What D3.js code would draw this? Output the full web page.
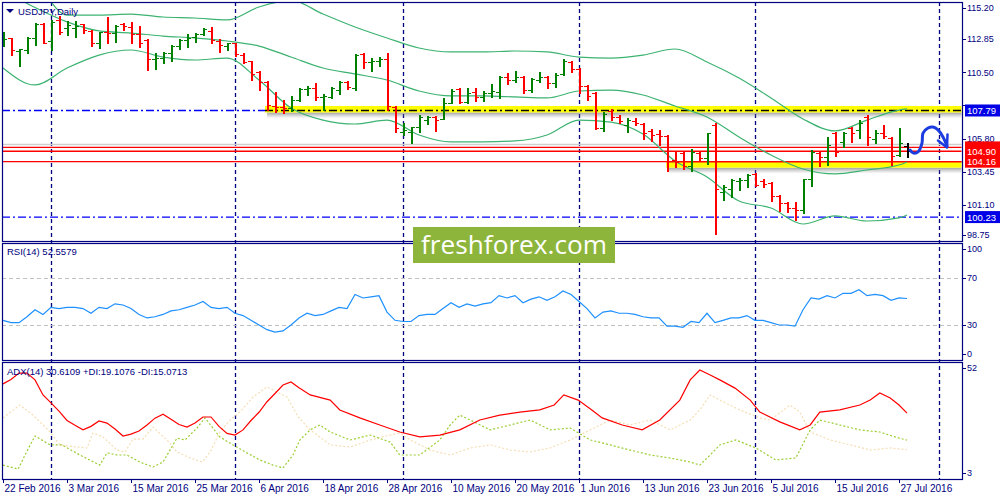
<!DOCTYPE html>
<html><head><meta charset="utf-8">
<script src="https://cdn.jsdelivr.net/npm/d3@7"></script>
<style>
body{margin:0;background:#fff;}
svg{display:block;font-family:"Liberation Sans",Arial,sans-serif;}
</style>
</head><body>
<svg id="c" width="1000" height="500"></svg>
<script>
// ---------- DATA ----------
const dateLabels = ["22 Feb 2016","3 Mar 2016","15 Mar 2016","25 Mar 2016","6 Apr 2016","18 Apr 2016","28 Apr 2016","10 May 2016","20 May 2016","1 Jun 2016","13 Jun 2016","23 Jun 2016","5 Jul 2016","15 Jul 2016","27 Jul 2016"];
const dateLabelIdx = [0,8,16,24,32,40,48,56,64,72,80,88,96,104,112];
const monthSepIdx = [6,29,50,72,94,117];

const open = [112.72,112.93,112.01,112.08,112.93,113.92,112.72,114.21,113.64,113.64,
113.92,113.43,112.58,113.36,113.28,113.92,113.71,113.21,112.79,111.44,
111.51,111.87,112.36,112.79,113.00,113.21,113.43,112.72,112.36,112.58,
111.72,111.30,110.52,109.81,108.11,108.04,107.97,108.53,109.31,109.38,
108.75,108.75,109.24,109.81,109.38,111.80,111.23,111.30,111.44,108.04,
106.26,106.26,106.62,107.11,107.33,107.19,108.32,109.31,108.39,109.10,
108.75,109.03,109.10,110.16,109.95,110.16,109.24,109.95,110.16,109.74,
110.38,111.23,110.73,109.53,109.03,106.55,107.75,107.33,106.76,107.04,
106.83,106.34,106.12,105.98,104.28,104.78,103.85,104.78,104.42,106.76,
102.01,102.22,102.79,102.86,103.29,102.79,102.65,101.73,101.23,100.87,
100.73,102.93,104.78,104.49,106.19,105.56,106.55,106.41,107.33,105.77,
106.19,105.84,104.63,105.27];
const high = [113.36,112.93,112.15,113.00,114.00,114.00,114.21,114.49,114.14,114.14,
113.92,113.50,113.36,114.42,113.85,114.00,114.07,113.78,112.86,111.87,
111.94,112.43,112.86,113.21,113.28,113.64,113.71,112.86,112.58,112.58,
111.87,111.30,110.59,109.88,109.10,108.53,108.82,109.38,109.53,109.74,
108.96,109.46,109.88,109.88,111.80,111.87,111.51,111.58,111.87,108.11,
106.90,106.62,107.47,107.40,107.40,108.68,109.31,109.38,109.38,109.38,
109.17,109.67,110.24,110.45,110.59,110.24,110.09,110.52,110.24,110.45,
111.44,111.30,110.80,109.60,109.10,107.68,107.90,107.47,107.26,107.26,
106.90,106.48,106.41,106.05,104.85,104.85,105.06,104.85,106.19,106.90,
102.51,102.93,103.00,103.29,103.36,102.93,102.72,101.80,101.30,101.30,
102.93,104.99,104.85,105.91,106.26,106.26,106.62,107.11,107.47,106.41,
106.76,105.91,106.55,105.48];
const low = [112.36,111.72,110.94,111.87,112.43,112.58,112.08,113.21,113.14,113.00,
113.28,112.36,112.22,112.58,112.65,113.50,112.58,112.29,110.66,110.73,
111.16,111.30,112.15,112.29,112.65,113.14,112.58,111.94,112.08,111.65,
111.16,109.95,109.24,107.82,107.68,107.61,107.75,108.46,108.89,108.53,
107.82,108.68,108.96,109.31,109.24,110.80,110.59,110.94,107.82,106.26,
106.05,105.48,106.26,106.83,106.34,107.19,108.32,108.32,108.32,108.46,
108.46,108.75,108.68,109.67,109.81,109.03,109.10,109.81,109.38,109.46,
110.31,110.52,109.03,108.53,106.48,106.34,107.11,106.90,106.26,106.76,
105.77,105.63,105.34,103.50,103.78,103.64,103.50,104.28,104.00,99.03,
101.44,101.65,102.15,102.36,102.43,102.36,101.37,100.66,100.59,100.02,
100.52,102.43,103.85,103.92,104.56,105.20,105.56,105.84,105.34,105.48,
105.84,103.92,104.56,104.49];
const close = [112.86,112.08,112.15,112.93,113.92,112.58,114.07,113.36,113.85,113.78,
113.50,112.58,113.36,113.28,113.78,113.78,113.21,112.58,111.44,111.51,
111.87,112.36,112.79,112.93,113.21,113.57,112.79,112.43,112.58,111.80,
111.23,110.38,109.81,108.18,108.04,107.97,108.53,109.31,109.38,108.75,
108.82,109.38,109.81,109.46,111.72,111.23,111.30,111.44,108.11,106.55,
106.41,106.62,107.33,107.33,107.11,108.32,109.17,108.39,109.03,108.75,
109.03,109.17,110.16,109.95,110.16,109.24,110.02,110.16,109.74,110.31,
111.30,110.73,109.53,108.82,106.55,107.54,107.33,107.04,107.11,106.90,
106.19,106.05,105.98,104.21,104.14,103.85,104.85,104.42,106.19,102.22,
102.36,102.86,102.86,103.21,102.51,102.58,101.73,101.23,100.87,100.73,
102.93,104.85,104.49,105.34,104.85,106.19,106.19,106.90,105.91,106.19,
105.98,104.56,105.48,104.90];

// Bollinger bands (20) read at these bar indices
const bbIdx   = [0,4,8,12,16,20,24,28,32,36,40,44,48,52,56,60,64,68,72,76,80,84,88,92,96,100,104,108,112,113];
const bbUpper = [119.00,117.00,114.56,114.56,114.63,114.42,114.35,114.21,115.13,115.60,114.63,113.71,112.93,112.22,111.94,111.94,112.01,111.94,111.58,111.51,111.72,112.15,111.23,110.09,108.68,107.19,106.34,107.11,107.82,107.90];
const bbMid   = [116.30,115.09,114.07,113.43,113.28,113.07,112.93,112.72,112.36,111.58,110.80,110.38,109.95,109.17,108.82,108.82,108.75,108.68,109.17,109.24,108.89,108.11,107.33,105.91,104.63,103.64,103.29,103.57,103.92,104.14];
const bbLower = [110.80,109.60,110.80,111.72,112.08,111.58,111.37,111.51,109.95,107.97,107.11,106.83,107.11,106.05,105.56,105.56,105.63,106.05,107.11,106.97,106.12,104.21,103.07,101.37,100.87,99.74,100.31,99.95,100.17,100.38];

// RSI(14), one value per bar
const rsi = [34,32,32,37,43,39,45,44,45,45,
44,40,45,44,48,47,44,39,36,37,
39,42,43,45,47,50,45,44,45,40,
38,34,30,26,24,25,30,36,40,38,
39,42,45,44,56,53,54,55,41,34,
33,33,38,39,39,44,49,45,48,46,
48,49,55,53,55,49,52,54,51,54,
59,56,50,44,36,41,42,40,40,39,
37,36,36,29,29,28,33,32,40,32,
34,36,36,38,34,34,32,30,30,29,
43,53,52,55,53,57,57,60,55,56,
55,51,53,52.56];

// ADX(14), +DI, -DI read at (fractional) bar positions
const adxIdx = [0,1,2,3,4,5,6,7,8,9,10,11,12,13,14,15,16,17,18,19,20,21,22,23,24,25,26,27,28,29,30,31,32,33,34,35,36,37,38.4,40.9,42.1,44.6,47.1,49.6,52.1,54.6,57.1,59.6,62.1,64.6,67.1,68.9,70.1,71.9,73.6,74.9,77.4,79.9,82.1,84.6,85.9,87.1,88.4,89.6,91.5,93.4,94.6,97.1,99.6,100.9,102.1,104.6,107.1,108.4,109.6,110.9,112,113];
const adxVal = [43.1,45,47.7,47.7,44.8,38.4,35,31.5,27.5,25.5,23.5,25,27.3,26.4,23.9,20.9,21.7,23,25.6,28.5,30.2,28,25.8,24.7,26.4,29,29,25,22,21.3,23.5,27.5,31,35.5,39,42.6,43.9,41.5,38.4,36.2,32,28.6,25.6,22.6,20.5,21.3,23.5,27.7,29.8,31.1,32,34.1,38.4,36.2,32,28.6,25.6,23.5,27.7,36.2,44.8,49,46.9,44.8,41.3,36.2,31.1,26.9,23.5,25.6,31.1,32,34.1,36.2,39.2,37.1,34.1,30.61];
const pdiIdx = [0,1.9,2.75,4,5.9,7.4,9.6,12.1,13,14.25,15.5,17.1,18.75,20,21.75,22.75,24.25,25.25,27.1,28.75,30.5,32.1,33.75,35,36.25,37.1,38.4,39.6,40.9,43.4,45.9,48.4,49.6,52.1,54.6,55.9,57.1,58.4,60.9,63.4,65.9,68.4,70.9,73.4,75.9,78.4,80.9,83.4,85.9,87.1,88.4,89.6,91.6,94.1,96.6,99.1,100.9,102.1,104.6,107.1,109.6,111.5,113];
const pdiVal = [8.5,6.8,12.8,20.9,17.1,17.1,12.8,8.5,13.7,12.8,12.8,9.8,7.7,9.8,20,19.2,24.3,28.6,20.5,17.1,13.7,10.7,8.5,7.3,12.8,19.2,23.5,25.6,22.6,19.2,21.3,18.3,12.8,12.8,19.2,25.6,29.8,27.7,23.5,25.6,27.7,23.5,24.3,19.2,17.1,14.9,12.8,11.5,9.8,8.5,12.8,17.1,19.2,15.8,10.7,11.5,23.5,27.7,25.6,23.5,22.6,20.5,19.11];
const mdiIdx = [0,2.1,3.75,5.9,7.1,9.25,10.5,11.25,12.5,14.25,15.25,16.25,17.5,18.75,20.5,21.75,23.4,24.9,25.9,27.1,28.4,29.6,31.25,33,34.25,35.5,36.9,38.4,40.9,43.4,45.9,48.4,49.6,50.9,53.4,55.9,58.4,60.9,63.4,65.9,68.4,70.9,73.4,75.9,78.4,80.9,83.4,85.9,87.1,88.4,89.6,92.1,94.6,95.9,98.4,99.6,100.9,103.4,105.9,108.4,110.9,113];
const mdiVal = [28.6,34.1,29.8,22.6,17.1,16.2,15.8,22.2,20.5,14.9,14.1,19.6,19.6,24.7,19.2,14.1,11.5,9.8,14.1,22.6,27.7,31.1,37.5,41.8,39.6,37.5,29,23.5,17.1,16.2,19.2,21.3,22.2,19.2,14.9,12.8,15.8,17.1,14.9,14.1,15.8,19.2,23.5,27.7,25.6,27.7,23.5,27.7,32,38.4,36.2,32,28.6,27.7,34.1,31.1,22.6,19.2,17.1,14.9,15.8,15.07];

// horizontal levels / zones
const resistLevel = 107.79, resistStartIdx = 32.75;
const supportLevel = 104.16, supportStartIdx = 82.9;
const lowLevel = 100.23;
const redLevels = [105.17, 104.90, 104.16];
const bidLevel = 105.38;
const priceTicks = [98.75,101.10,103.45,105.80,108.15,110.50,112.85,115.20];
const hiddenPriceTicks = [108.15];   // covered by the 107.79 box in the reference
const rsiTicks = [0,30,70,100];
const adxTicks = [3,52];
// hand-drawn forecast arrow (bar index, price)
const arrowIdx   = [113.375,113.75,114.375,114.875,115,115.625,116.25,116.875,117.5,118.0];
const arrowPrice = [104.99,104.78,104.85,105.48,106.19,106.55,106.62,106.41,105.91,105.27];

// ---------- LAYOUT ----------
const L = 2, R = 962;
const P = {main:[2,241], rsi:[243,360], adx:[362,479]};
const NAVY = "#000080";
const svg = d3.select("#c");
const x  = d3.scaleLinear().domain([0,119.875]).range([3,962]);
const y  = d3.scaleLinear().domain([98.533,115.484]).range([241,2]);
const yR = d3.scaleLinear().domain([0,100]).range([360.25,242.75]);
const yA = d3.scaleLinear().domain([3,52]).range([478,363]);

const defs = svg.append("defs");
Object.entries(P).forEach(([k,[t,b]])=>{
  defs.append("clipPath").attr("id","clip-"+k).append("rect")
    .attr("x",L+0.5).attr("y",t+0.5).attr("width",R-L-1).attr("height",b-t-1);
});
const shadow = defs.append("linearGradient").attr("id","shadow").attr("x1",0).attr("x2",0).attr("y1",0).attr("y2",1);
shadow.append("stop").attr("offset","0%").attr("stop-color","#555").attr("stop-opacity",0.55);
shadow.append("stop").attr("offset","100%").attr("stop-color","#888").attr("stop-opacity",0);

// separators (all panels)
const gSep = svg.append("g");
monthSepIdx.forEach(i=>{
  gSep.append("line").attr("x1",Math.round(x(i))+0.5).attr("x2",Math.round(x(i))+0.5)
    .attr("y1",P.main[0]).attr("y2",P.adx[1])
    .attr("stroke",NAVY).attr("stroke-width",1.3).attr("stroke-dasharray","4,3");
});

// ---------- MAIN PANEL ----------
const gM = svg.append("g").attr("clip-path","url(#clip-main)");
[lowLevel, resistLevel].forEach(v=>{
  gM.append("line").attr("x1",L).attr("x2",R).attr("y1",y(v)).attr("y2",y(v))
    .attr("stroke","#0000ff").attr("stroke-width",1.3).attr("stroke-dasharray","8,3,2,3");
});
gM.append("line").attr("x1",L).attr("x2",R).attr("y1",y(bidLevel)).attr("y2",y(bidLevel))
  .attr("stroke","#cfcfcf").attr("stroke-width",1.5);
redLevels.forEach(v=>{
  gM.append("line").attr("x1",L).attr("x2",R).attr("y1",y(v)).attr("y2",y(v))
    .attr("stroke","#ff0000").attr("stroke-width",1.3);
});
function zone(level, startIdx, topOff, botOff, lineColor, dash){
  const x0 = x(startIdx);
  gM.append("rect").attr("x",x0+2).attr("y",y(level)+botOff).attr("width",R-x0).attr("height",6)
    .attr("fill","url(#shadow)");
  gM.append("rect").attr("x",x0).attr("y",y(level)+topOff).attr("width",R-x0).attr("height",botOff-topOff)
    .attr("fill","#ffff00");
  gM.append("line").attr("x1",x0).attr("x2",R).attr("y1",y(level)).attr("y2",y(level))
    .attr("stroke",lineColor).attr("stroke-width",1.5).attr("stroke-dasharray",dash);
}
zone(resistLevel, resistStartIdx, -4.5, 2, "#000", "8,3,2,3");
zone(supportLevel, supportStartIdx, -0.5, 6, "#ff0000", null);

const bbLine = (arr)=> d3.line().x((d,i)=>x(bbIdx[i])).y(d=>y(d)).curve(d3.curveMonotoneX)(arr);
[bbUpper,bbMid,bbLower].forEach(a=>{
  gM.append("path").attr("d",bbLine(a)).attr("fill","none").attr("stroke","#3cb371").attr("stroke-width",1.2);
});

const gBars = gM.append("g").attr("shape-rendering","crispEdges");
open.forEach((o,i)=>{
  const c = close[i];
  const col = i===open.length-1 ? "#000" : (c>=o ? "#008000" : "#ff0000");
  const xc = Math.round(x(i));
  gBars.append("line").attr("x1",xc+0.5).attr("x2",xc+0.5).attr("y1",y(high[i])).attr("y2",y(low[i])+1)
    .attr("stroke",col).attr("stroke-width",2);
  gBars.append("line").attr("x1",xc-3).attr("x2",xc).attr("y1",Math.round(y(o))+0.5).attr("y2",Math.round(y(o))+0.5)
    .attr("stroke",col).attr("stroke-width",1);
  gBars.append("line").attr("x1",xc+1).attr("x2",xc+4).attr("y1",Math.round(y(c))+0.5).attr("y2",Math.round(y(c))+0.5)
    .attr("stroke",col).attr("stroke-width",1);
});

const aLine = d3.line().x((d,i)=>x(arrowIdx[i])).y(d=>y(d)).curve(d3.curveCatmullRom);
svg.append("path").attr("d",aLine(arrowPrice)).attr("fill","none").attr("stroke","#1b3de0")
  .attr("stroke-width",3).attr("stroke-linecap","round");
{
  const n = arrowIdx.length-1;
  const tx = x(arrowIdx[n]), ty = y(arrowPrice[n])+1.5;
  svg.append("path").attr("d",`M${tx-9},${ty-7}L${tx},${ty}L${tx+0.5},${ty-13}`)
    .attr("fill","none").attr("stroke","#1b3de0").attr("stroke-width",2.5).attr("stroke-linecap","round").attr("stroke-linejoin","round");
}

svg.append("path").attr("d","M6,9L14,9L10,13Z").attr("fill",NAVY);
svg.append("text").attr("x",18).attr("y",14.5).attr("font-size",9.5).attr("fill",NAVY).text("USDJPY,Daily");

// ---------- RSI PANEL ----------
const gR = svg.append("g").attr("clip-path","url(#clip-rsi)");
[30,70].forEach(v=>{
  gR.append("line").attr("x1",L).attr("x2",R).attr("y1",Math.round(yR(v))+0.5).attr("y2",Math.round(yR(v))+0.5)
    .attr("stroke","#c0c0c0").attr("stroke-width",1).attr("stroke-dasharray","4,3");
});
gR.append("path").attr("d",d3.line().x((d,i)=>x(i)).y(d=>yR(d))(rsi))
  .attr("fill","none").attr("stroke","#1e90ff").attr("stroke-width",1.2);
svg.append("text").attr("x",7).attr("y",255).attr("font-size",9.5).attr("fill",NAVY).text("RSI(14) 52.5579");

// ---------- ADX PANEL ----------
const gA = svg.append("g").attr("clip-path","url(#clip-adx)");
const diLine = (idx)=> d3.line().x((d,i)=>x(idx[i])).y(d=>yA(d));
gA.append("path").attr("d",diLine(mdiIdx)(mdiVal)).attr("fill","none").attr("stroke","#f5deb3").attr("stroke-width",1.2).attr("stroke-dasharray","2,2");
gA.append("path").attr("d",diLine(pdiIdx)(pdiVal)).attr("fill","none").attr("stroke","#9acd32").attr("stroke-width",1.2).attr("stroke-dasharray","2,2");
gA.append("path").attr("d",diLine(adxIdx)(adxVal)).attr("fill","none").attr("stroke","#ff0000").attr("stroke-width",1.2);
svg.append("text").attr("x",7).attr("y",375).attr("font-size",9.5).attr("fill",NAVY).text("ADX(14) 30.6109 +DI:19.1076 -DI:15.0713");

// ---------- FRAMES & AXES ----------
Object.values(P).forEach(([t,b])=>{
  svg.append("rect").attr("x",L+0.5).attr("y",t+0.5).attr("width",R-L).attr("height",b-t)
    .attr("fill","none").attr("stroke",NAVY).attr("stroke-width",1.2);
});
function rightAxis(scale, ticks, fmt, top, bottom, hidden){
  ticks.forEach(v=>{
    const yy = scale(v);
    const ly = Math.max(top+6, Math.min(bottom-6, yy));
    svg.append("line").attr("x1",R).attr("x2",R+4).attr("y1",Math.round(ly)+0.5).attr("y2",Math.round(ly)+0.5)
      .attr("stroke",NAVY);
    if (!(hidden||[]).includes(v))
      svg.append("text").attr("x",R+5).attr("y",ly+3.3).attr("font-size",9).attr("fill",NAVY).text(fmt(v));
  });
}
rightAxis(y, priceTicks, d3.format(".2f"), P.main[0], P.main[1], hiddenPriceTicks);
rightAxis(yR, rsiTicks, d3.format("d"), P.rsi[0], P.rsi[1]);
rightAxis(yA, adxTicks, d3.format("d"), P.adx[0], P.adx[1]);

dateLabelIdx.forEach((d,k)=>{
  const xx = Math.round(x(d))+0.5;
  svg.append("line").attr("x1",xx).attr("x2",xx).attr("y1",P.adx[1]).attr("y2",P.adx[1]+4).attr("stroke",NAVY);
  svg.append("text").attr("x",xx+1).attr("y",492).attr("font-size",10).attr("fill",NAVY).text(dateLabels[k]);
});

// price boxes on the right axis
function priceBox(v, bg, fg, showText){
  const yy = y(v);
  svg.append("rect").attr("x",R+3).attr("y",yy-6).attr("width",1000-R-3).attr("height",12).attr("fill",bg);
  if (showText)
    svg.append("text").attr("x",R+5).attr("y",yy+3.5).attr("font-size",9.5).attr("fill",fg).text(d3.format(".2f")(v));
}
priceBox(resistLevel,"#0000e6","#fff",true);
priceBox(lowLevel,"#0000e6","#fff",true);
redLevels.forEach((v,k)=>priceBox(v,"#ff0000","#fff",k>0));

// watermark
{
  const wx0 = 413, wx1 = 615, wy0 = 227, wy1 = 263;
  svg.append("rect").attr("x",wx0).attr("y",wy0).attr("width",wx1-wx0).attr("height",wy1-wy0).attr("fill","#8db53b");
  const t = svg.append("text").attr("x",(wx0+wx1)/2).attr("y",wy1-9).attr("text-anchor","middle")
    .attr("font-family","'Open Sans',sans-serif").attr("font-size",26).attr("fill","#fff").text("freshforex.com");
  const w = t.node().getComputedTextLength();
  t.attr("font-size", 26*186/w);
}
</script>
</body></html>
